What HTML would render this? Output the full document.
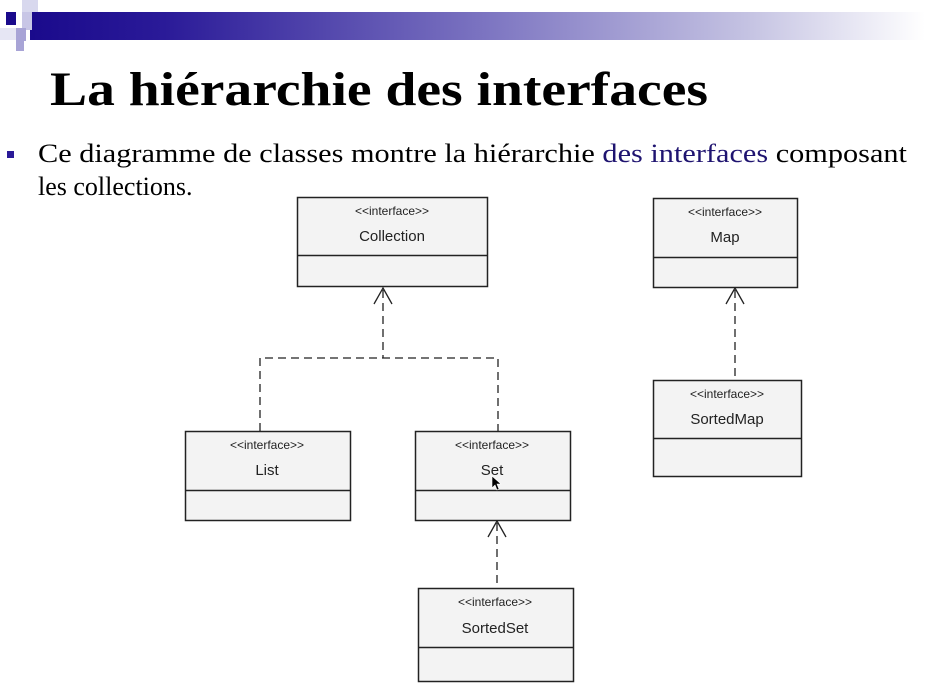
<!DOCTYPE html>
<html><head><meta charset="utf-8"><style>
html,body{margin:0;padding:0;background:#fff;width:925px;height:694px;overflow:hidden}
</style></head><body>
<svg width="925" height="694" xmlns="http://www.w3.org/2000/svg">
<defs>
<linearGradient id="g" x1="0" x2="1" y1="0" y2="0">
<stop offset="0" stop-color="#1a0a8c"/>
<stop offset="0.15" stop-color="#2a1a98"/>
<stop offset="0.5" stop-color="#7a72c0"/>
<stop offset="0.8" stop-color="#c4c2e2"/>
<stop offset="1" stop-color="#ffffff"/>
</linearGradient>
</defs>
<rect x="30" y="12" width="895" height="28" fill="url(#g)"/>
<rect x="6" y="12" width="10" height="13" fill="#1a0a8c"/>
<rect x="22" y="0" width="16" height="12" fill="#d8d8ee"/>
<rect x="22" y="12" width="10" height="18" fill="#c8c6e6"/>
<rect x="16" y="28" width="10" height="13" fill="#a8a4d6"/>
<rect x="16" y="41" width="8" height="10" fill="#a8a4d6"/>
<rect x="0" y="28" width="16" height="12" fill="#e6e6f4"/>

<text x="50" y="105" font-family="Liberation Serif, serif" font-weight="bold" font-size="48" textLength="658" lengthAdjust="spacingAndGlyphs">La hiérarchie des interfaces</text>
<rect x="7" y="151" width="7" height="7" fill="#2a1a98"/>
<text x="38" y="162" font-family="Liberation Serif, serif" font-size="26" textLength="869" lengthAdjust="spacingAndGlyphs">Ce diagramme de classes montre la hiérarchie <tspan fill="#1f1470">des interfaces</tspan> composant</text>
<text x="38" y="195" font-family="Liberation Serif, serif" font-size="26">les collections.</text>

<g stroke="#222" stroke-width="1.3" fill="none" stroke-dasharray="8,5">
<path d="M383 290 V358 M260 431 V358 H498 V431"/>
<path d="M735 290 V380"/>
<path d="M497 523 V588"/>
</g>
<g stroke="#222" stroke-width="1.3" fill="none">
<path d="M374 304 L383 288 L392 304"/>
<path d="M726 304 L735 288 L744 304"/>
<path d="M488 537 L497 521 L506 537"/>
</g>

<g font-family="Liberation Sans, sans-serif" fill="#222" text-anchor="middle">
<g>
<rect x="297.5" y="197.5" width="190" height="89" fill="#f3f3f3" stroke="#222" stroke-width="1.5"/>
<line x1="297.5" y1="255.5" x2="487.5" y2="255.5" stroke="#222" stroke-width="1.5"/>
<text x="392" y="215" font-size="12">&lt;&lt;interface&gt;&gt;</text>
<text x="392" y="241" font-size="15">Collection</text>
</g>
<g>
<rect x="653.5" y="198.5" width="144" height="89" fill="#f3f3f3" stroke="#222" stroke-width="1.5"/>
<line x1="653.5" y1="257.5" x2="797.5" y2="257.5" stroke="#222" stroke-width="1.5"/>
<text x="725" y="216" font-size="12">&lt;&lt;interface&gt;&gt;</text>
<text x="725" y="242" font-size="15">Map</text>
</g>
<g>
<rect x="653.5" y="380.5" width="148" height="96" fill="#f3f3f3" stroke="#222" stroke-width="1.5"/>
<line x1="653.5" y1="438.5" x2="801.5" y2="438.5" stroke="#222" stroke-width="1.5"/>
<text x="727" y="398" font-size="12">&lt;&lt;interface&gt;&gt;</text>
<text x="727" y="424" font-size="15">SortedMap</text>
</g>
<g>
<rect x="185.5" y="431.5" width="165" height="89" fill="#f3f3f3" stroke="#222" stroke-width="1.5"/>
<line x1="185.5" y1="490.5" x2="350.5" y2="490.5" stroke="#222" stroke-width="1.5"/>
<text x="267" y="449" font-size="12">&lt;&lt;interface&gt;&gt;</text>
<text x="267" y="475" font-size="15">List</text>
</g>
<g>
<rect x="415.5" y="431.5" width="155" height="89" fill="#f3f3f3" stroke="#222" stroke-width="1.5"/>
<line x1="415.5" y1="490.5" x2="570.5" y2="490.5" stroke="#222" stroke-width="1.5"/>
<text x="492" y="449" font-size="12">&lt;&lt;interface&gt;&gt;</text>
<text x="492" y="475" font-size="15">Set</text>
</g>
<g>
<rect x="418.5" y="588.5" width="155" height="93" fill="#f3f3f3" stroke="#222" stroke-width="1.5"/>
<line x1="418.5" y1="647.5" x2="573.5" y2="647.5" stroke="#222" stroke-width="1.5"/>
<text x="495" y="606" font-size="12">&lt;&lt;interface&gt;&gt;</text>
<text x="495" y="633" font-size="15">SortedSet</text>
</g>
</g>
<path d="M492 476 L492 488 L495 485 L497 490 L499 489 L497 484 L501 484 Z" fill="#000" stroke="#fff" stroke-width="0.6"/>
</svg>
</body></html>
